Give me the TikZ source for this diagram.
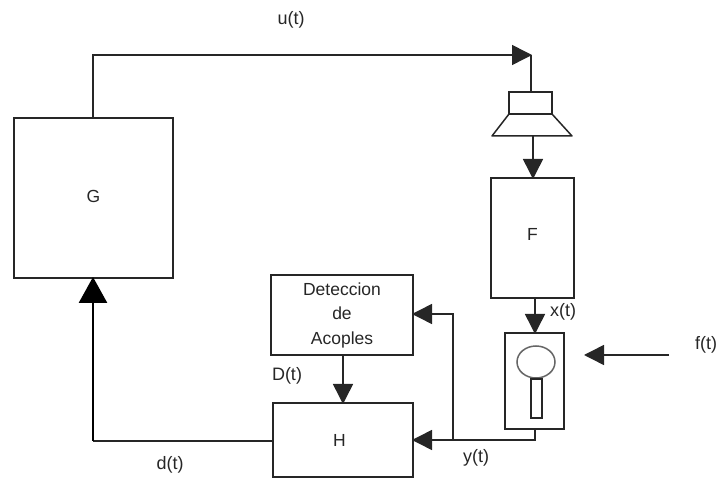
\documentclass[tikz,border=0pt]{standalone}
\usepackage{fontspec}
\setmainfont{Liberation Sans}
\usetikzlibrary{arrows.meta,positioning,shapes.geometric}

\begin{document}
\begin{tikzpicture}[x=1pt, y=-1pt
    , block/.style = {rectangle,draw=black!85,line width=1.5pt,outer sep=0mm,inner sep=0mm,align=center,text=black!85,font=\fontsize{17.5}{24.5}\selectfont}
    , sig/.style = {draw=black!85,line width=1.5pt,-{Triangle[length=20pt,width=20pt]},shorten >=-1pt}
    , wire/.style = {draw=black!85,line width=1.5pt}
    , lbl/.style = {inner sep=0mm,font=\fontsize{18}{20}\selectfont,text=black!85}
]
\useasboundingbox (0,0) rectangle (721,478);
% blocks
\node[block,minimum width=159pt,minimum height=160pt] (G) at (93.5,198) {\raisebox{3pt}{G}};
\node[block,minimum width=83pt,minimum height=120pt] (F) at (532.5,238) {\raisebox{7pt}{F}};
\node[block,minimum width=142pt,minimum height=80pt] (Det) at (342,315) {Deteccion\\de\\Acoples};
\node[block,minimum width=140pt,minimum height=74pt] (H) at (343,440) {\hspace{-7pt}H};
\node[block,minimum width=59pt,minimum height=96pt] (Mic) at (534.5,381) {};
\node[block,minimum width=43pt,minimum height=22pt] (Spk) at (530.5,103) {};
% speaker cone
\coordinate (SpkBase) at (533,136);
\draw[wire,line join=round] (Spk.south west) -- (492,136) -- (572,136) -- (Spk.south east);
% microphone
\node[draw=black!60,line width=1.5pt,ellipse,minimum width=38pt,minimum height=32pt,inner sep=0mm,outer sep=0mm] (Head) at (536,362) {};
\node[block,minimum width=11pt,minimum height=39pt] (Stem) at (536.5,398.5) {};
% free ends and bends
\coordinate (UEnd) at (531,55);
\coordinate (FEnd) at (669,355);
\coordinate (FTip) at (585,355);
\coordinate (FOut) at (535,298);
\coordinate (MicIn) at (535,333);
\coordinate (MicOut) at (535,429);
\coordinate (Bend) at (535,440);
\coordinate (Tap) at (453,440);
\coordinate (DetIn) at (413,314);
\coordinate (DX) at (343,0);
\coordinate (HOut) at (273,441);
\coordinate (GIn) at (93,441);
% connectors
\draw[sig] (GIn |- G.north) |- (UEnd);
\draw[wire] (UEnd) -- (UEnd |- Spk.north);
\draw[sig] (SpkBase) -- (SpkBase |- F.north);
\draw[sig] (FOut) -- (MicIn);
\draw[sig] (FEnd) -- (FTip);
\draw[wire] (MicOut) -- (Bend) -- (Tap);
\draw[sig] (Tap) -- (H.east |- Tap);
\draw[sig] (Tap) |- (DetIn);
\draw[sig] (Det.south -| DX) -- (H.north -| DX);
\draw[wire] (HOut) -- (GIn);
\draw[draw=black,line width=2.8pt,-{Triangle[length=26pt,width=28pt]},shorten >=-1pt] (GIn) -- (GIn |- G.south);
% labels
\node[lbl] (uLbl) at (291,20) {u(t)};
\node[lbl] (xLbl) at (563,312) {x(t)};
\node[lbl] (fLbl) at (706,345) {f(t)};
\node[lbl] (yLbl) at (476,458) {y(t)};
\node[lbl] (dLbl) at (170,465) {d(t)};
\node[lbl] (DLbl) at (287,376) {D(t)};
\end{tikzpicture}
\end{document}
